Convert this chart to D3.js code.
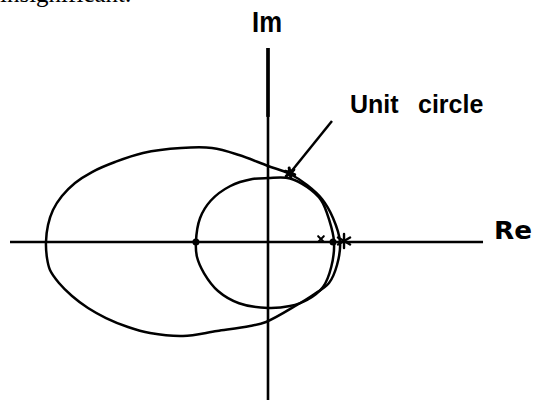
<!DOCTYPE html>
<html>
<head>
<meta charset="utf-8">
<script src="https://cdn.jsdelivr.net/npm/d3@7"></script>
<style>
  html, body { margin: 0; padding: 0; background: #fff; }
  svg { display: block; }
</style>
</head>
<body>
<svg id="chart" width="534" height="400"></svg>
<script>
// Traced locus points in the complex plane, [Re, Im]
const unitCircle = [
  [-1.06, 0], [-1.0, 0.35], [-0.84, 0.61], [-0.56, 0.82], [-0.23, 0.925],
  [0, 0.94], [0.324, 0.935], [0.574, 0.809], [0.779, 0.618], [0.9, 0.324],
  [0.971, 0], [0.93, -0.368], [0.809, -0.662], [0.574, -0.853], [0.324, -0.941],
  [0, -0.971], [-0.426, -0.9], [-0.735, -0.72], [-0.94, -0.46], [-1.044, -0.221]
];
const outerLocus = [
  [-3.265, 0], [-3.235, 0.25], [-3.162, 0.471], [-3.03, 0.676], [-2.838, 0.868],
  [-2.588, 1.029], [-2.25, 1.176], [-1.838, 1.309], [-1.279, 1.382], [-0.824, 1.382],
  [-0.426, 1.279], [0, 1.118], [0.324, 1.0], [0.574, 0.838], [0.794, 0.632],
  [0.956, 0.353], [1.059, 0], [1.015, -0.338], [0.897, -0.603], [0.662, -0.779],
  [0.426, -0.926], [-0.029, -1.176], [-0.265, -1.235], [-0.75, -1.309], [-1.25, -1.382],
  [-1.735, -1.338], [-2.059, -1.25], [-2.382, -1.118], [-2.647, -0.971], [-2.882, -0.794],
  [-3.074, -0.603], [-3.206, -0.412], [-3.25, -0.235]
];
// Marked points
const dots = [[-1.06, 0], [0.956, 0]];
const smallCrosses = [[0.779, 0.044]];
const bigStars = [[1.118, 0.015]];
const tipStar = [[0.324, 1.015]];
// Axis extents
const reExtent = [-3.794, 3.162];
const imExtent = [-2.324, 2.853];
// Annotation arrow, from label to the unit circle
const arrowFrom = [0.941, 1.779];
const arrowTo = [0.324, 1.015];

const svg = d3.select("#chart");
const x = d3.scaleLinear().domain([-1, 1]).range([200, 336]);
const y = d3.scaleLinear().domain([-1, 1]).range([310, 174]);

// Caption line running off the top edge
svg.append("text")
  .attr("x", 0).attr("y", 2)
  .attr("font-family", "Liberation Serif, serif")
  .attr("font-size", 25)
  .attr("fill", "#000")
  .text("insignificant.");

// Axes
svg.append("line")
  .attr("x1", x(reExtent[0])).attr("x2", x(reExtent[1]))
  .attr("y1", y(0)).attr("y2", y(0))
  .attr("stroke", "#000").attr("stroke-width", 2.6);
svg.append("line")
  .attr("x1", x(0)).attr("x2", x(0))
  .attr("y1", y(imExtent[1])).attr("y2", y(imExtent[0]))
  .attr("stroke", "#000").attr("stroke-width", 2.6);
svg.append("line")
  .attr("x1", x(0)).attr("x2", x(0))
  .attr("y1", y(imExtent[1])).attr("y2", y(1.84))
  .attr("stroke", "#000").attr("stroke-width", 3.6);

// Loci
const line = d3.line().x(d => x(d[0])).y(d => y(d[1])).curve(d3.curveCatmullRomClosed.alpha(0.5));
svg.append("path").attr("d", line(outerLocus))
  .attr("fill", "none").attr("stroke", "#000").attr("stroke-width", 2.5);
svg.append("path").attr("d", line(unitCircle))
  .attr("fill", "none").attr("stroke", "#000").attr("stroke-width", 2.5);

// Markers
svg.selectAll("circle.dot").data(dots).join("circle")
  .attr("class", "dot")
  .attr("cx", d => x(d[0])).attr("cy", d => y(d[1])).attr("r", 3.5)
  .attr("fill", "#000");

function star(g, d, size, width, arms) {
  const cx = x(d[0]), cy = y(d[1]);
  arms.forEach(a => {
    const r = a * Math.PI / 180;
    g.append("line")
      .attr("x1", cx - size * Math.cos(r)).attr("y1", cy - size * Math.sin(r))
      .attr("x2", cx + size * Math.cos(r)).attr("y2", cy + size * Math.sin(r))
      .attr("stroke", "#000").attr("stroke-width", width).attr("stroke-linecap", "round");
  });
}
const marks = svg.append("g");
smallCrosses.forEach(d => star(marks, d, 4, 2, [45, 135]));
bigStars.forEach(d => star(marks, d, 7, 2.4, [30, 150, 90]));
tipStar.forEach(d => {
  star(marks, d, 5, 3, [20, 80, 140]);
  marks.append("circle").attr("cx", x(d[0])).attr("cy", y(d[1])).attr("r", 3.5).attr("fill", "#000");
});

// Annotation arrow
svg.append("line")
  .attr("x1", x(arrowFrom[0])).attr("y1", y(arrowFrom[1]))
  .attr("x2", x(arrowTo[0])).attr("y2", y(arrowTo[1]))
  .attr("stroke", "#000").attr("stroke-width", 2.5);

// Labels
svg.append("text")
  .attr("x", 252).attr("y", 32)
  .attr("font-family", "Liberation Sans, Arial, sans-serif")
  .attr("font-weight", "bold").attr("font-size", 30)
  .attr("textLength", 30).attr("lengthAdjust", "spacingAndGlyphs")
  .text("Im");
svg.append("text")
  .attr("x", 494).attr("y", 239)
  .attr("font-family", "DejaVu Sans, sans-serif")
  .attr("font-weight", "bold").attr("font-size", 24)
  .attr("textLength", 38).attr("lengthAdjust", "spacingAndGlyphs")
  .text("Re");
svg.append("text")
  .attr("x", 350).attr("y", 113)
  .attr("font-family", "Liberation Sans, Arial, sans-serif")
  .attr("font-weight", "bold").attr("font-size", 25)
  .text("Unit");
svg.append("text")
  .attr("x", 418).attr("y", 113)
  .attr("font-family", "Liberation Sans, Arial, sans-serif")
  .attr("font-weight", "bold").attr("font-size", 25)
  .text("circle");
</script>
</body>
</html>
